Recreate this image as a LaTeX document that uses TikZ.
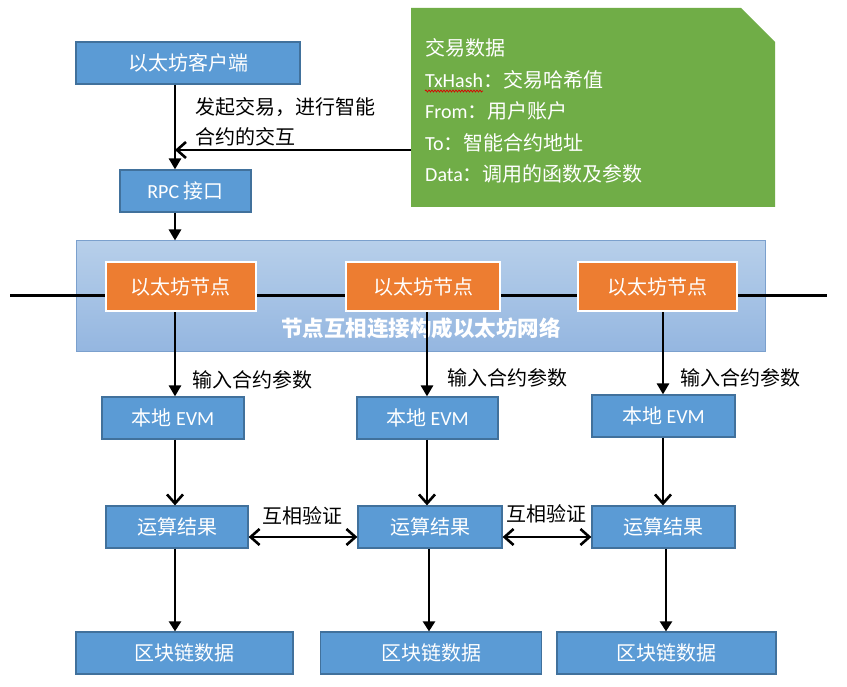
\documentclass[tikz,border=0pt]{standalone}
\usepackage{fontspec}
\setmainfont{Noto Sans CJK SC}
\newfontfamily\lat{Carlito}
\usetikzlibrary{arrows.meta,decorations.pathmorphing}
\definecolor{boxblue}{HTML}{5B9BD5}
\definecolor{boxedge}{HTML}{41719C}
\definecolor{orng}{HTML}{ED7D31}
\definecolor{grn}{HTML}{70AD47}
\definecolor{bandtop}{HTML}{B7CFEA}
\definecolor{bandbot}{HTML}{94B6E0}
\definecolor{bandedge}{HTML}{7BA0CD}
\begin{document}
\begin{tikzpicture}[x=1pt,y=-1pt,
  txt/.style={font=\fontsize{20}{24}\selectfont},
  bbox/.style={txt,draw=boxedge,line width=1.2pt,fill=boxblue,text=white,minimum height=42pt,inner sep=0pt},
  obox/.style={txt,draw=white,line width=2pt,fill=orng,text=white,minimum height=49pt,inner sep=0pt},
  lbl/.style={txt,text=black,anchor=west,inner sep=0pt},
  ntxt/.style={txt,text=white,anchor=west,inner sep=0pt},
  solidarr/.style={line width=2.8pt,-{Triangle[length=11pt,width=12pt]}},
  thinarr/.style={line width=2.4pt,-{Triangle[length=10pt,width=12pt]}},
  barbarr/.style={line width=2.8pt,-{Straight Barb[length=9pt,width=16pt,line width=2.6pt]}},
  dblarr/.style={line width=2.8pt,{Straight Barb[length=9pt,width=16pt,line width=2.6pt]}-{Straight Barb[length=9pt,width=16pt,line width=2.6pt]}}
]
\useasboundingbox (0,0) rectangle (847,687);
\fill[white] (0,0) rectangle (847,687);

% column coordinates
\coordinate (c1) at (175,0);
\coordinate (c2) at (427,0);
\coordinate (c3) at (663,0);
\coordinate (d2) at (429,0);
\coordinate (d3) at (666,0);

% client and RPC
\node[bbox,minimum width=224pt] (client) at (188,63) {以太坊客户端};
\node[bbox,minimum width=131pt] (rpc) at (185.5,191) {{\lat RPC} 接口};

% green note
\fill[grn] (411,8) -- (741,8) -- (775,42) -- (775,207) -- (411,207) -- cycle;
\coordinate (noteL) at (411,150);
\node[ntxt] (n1) at (425,48) {交易数据};
\node[ntxt] (n2) at (425,80) {{\lat TxHash}：交易哈希值};
\node[ntxt] (n3) at (425,111) {{\lat From}：用户账户};
\node[ntxt] (n4) at (425,143) {{\lat To}：智能合约地址};
\node[ntxt] (n5) at (425,174) {{\lat Data}：调用的函数及参数};
\draw[red!85!black,line width=0.7pt,decorate,decoration={snake,amplitude=1pt,segment length=3pt}] (425,91) -- (483,91);

% label
\node[lbl] (lab1) at (195,107) {发起交易，进行智能};
\node[lbl] (lab2) at (195,137) {合约的交互};

% arrows top
\draw[solidarr] (client.south -| c1) -- (rpc.north -| c1);
\draw[barbarr] (noteL) -- (noteL -| c1);

% band
\node[draw=bandedge,line width=1pt,top color=bandtop,bottom color=bandbot,minimum width=689pt,minimum height=111pt,inner sep=0pt] (band) at (420.5,296.5) {};
\draw[solidarr] (rpc.south -| c1) -- (band.north -| c1);
\coordinate (netL) at (10,296);
\coordinate (netR) at (827,296);
\draw[line width=3pt] (netL) -- (netR);
\node[font=\fontsize{21.5}{24}\selectfont\bfseries,text=white,inner sep=0pt] (bandtxt) at (421,328) {节点互相连接构成以太坊网络};

% EVM boxes
\node[bbox,minimum width=142pt] (e1) at (173,418) {本地 {\lat EVM}};
\node[bbox,minimum width=141pt] (e2) at (427.5,418) {本地 {\lat EVM}};
\node[bbox,minimum width=143pt] (e3) at (663.5,416) {本地 {\lat EVM}};

% orange nodes and their arrows
\node[obox,minimum width=150pt] (o1) at (180.5,287) {以太坊节点};
\node[obox,minimum width=154pt] (o2) at (423,287) {以太坊节点};
\node[obox,minimum width=159pt] (o3) at (657,287) {以太坊节点};
\draw[solidarr] (o1.south -| c1) -- (e1.north -| c1);
\draw[solidarr] (o2.south -| c2) -- (e2.north -| c2);
\draw[solidarr] (o3.south -| c3) -- (e3.north -| c3);
\node[lbl] (in1) at (192,380) {输入合约参数};
\node[lbl] (in2) at (447,378) {输入合约参数};
\node[lbl] (in3) at (680,378) {输入合约参数};

% results
\node[bbox,minimum width=142pt] (r1) at (177,527) {运算结果};
\node[bbox,minimum width=144pt] (r2) at (430,527) {运算结果};
\node[bbox,minimum width=143pt] (r3) at (663.5,527) {运算结果};
\draw[barbarr] (e1.south -| c1) -- (r1.north -| c1);
\draw[barbarr] (e2.south -| c2) -- (r2.north -| c2);
\draw[barbarr] (e3.south -| c3) -- (r3.north -| c3);
\draw[dblarr] ([yshift=-10pt]r1.east) -- ([yshift=-10pt]r2.west);
\draw[dblarr] ([yshift=-10pt]r2.east) -- ([yshift=-10pt]r3.west);
\node[txt,text=black,inner sep=0pt] (v1) at (302,516) {互相验证};
\node[txt,text=black,inner sep=0pt] (v2) at (546,514) {互相验证};

% blockchain
\node[bbox,minimum width=217pt] (b1) at (184.5,653) {区块链数据};
\node[bbox,minimum width=221pt] (b2) at (431,653) {区块链数据};
\node[bbox,minimum width=219pt] (b3) at (666.5,653) {区块链数据};
\draw[thinarr] (r1.south -| c1) -- (b1.north -| c1);
\draw[thinarr] (r2.south -| d2) -- (b2.north -| d2);
\draw[thinarr] (r3.south -| d3) -- (b3.north -| d3);
\end{tikzpicture}
\end{document}
